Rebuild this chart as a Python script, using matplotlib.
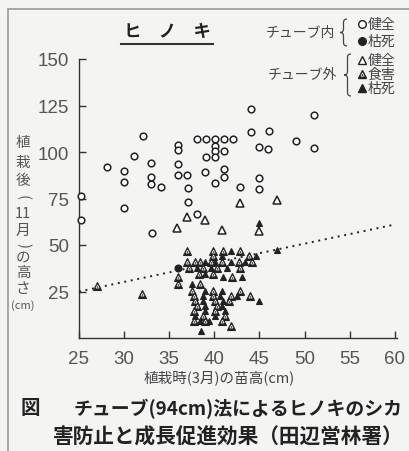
import numpy as np
import matplotlib
matplotlib.use('Agg')
import matplotlib.pyplot as plt
from matplotlib.path import Path
from matplotlib.patches import PathPatch, Rectangle
from matplotlib.lines import Line2D

plt.rcParams['font.family'] = ['Noto Sans CJK JP', 'DejaVu Sans']

# チューブ内・健全
in_ok_x = [25.2, 25.2, 28.1, 30.0, 30.0, 30.0, 31.1, 32.1, 33.0, 33.0, 33.0, 34.1, 33.1,
           36.0, 36.0, 36.0, 36.0, 37.0, 37.1, 37.1, 38.1, 38.1, 39.1, 40.1, 41.1, 42.1,
           40.1, 40.1, 40.1, 39.1, 41.1, 39.0, 41.1, 41.1, 40.1, 42.9, 44.1, 44.1, 46.1,
           45.0, 46.0, 45.0, 45.0, 49.0, 51.0, 51.0]
in_ok_y = [76.5, 63.6, 91.8, 90.0, 84.1, 69.9, 98.0, 108.4, 94.0, 86.4, 82.8, 81.3, 56.3,
           103.9, 101.1, 93.5, 87.8, 87.8, 80.5, 73.0, 66.4, 107.0, 107.0, 107.0, 107.0, 107.0,
           103.4, 100.7, 97.1, 97.1, 100.7, 89.4, 90.9, 86.4, 83.3, 81.0, 123.1, 110.6, 111.5,
           102.5, 101.6, 85.8, 80.1, 106.1, 119.9, 102.0]

# チューブ内・枯死
in_dead_x = [36.0]
in_dead_y = [37.5]

# チューブ外・健全
out_ok_x = [35.9, 37.0, 39.0, 40.9, 42.9, 44.9, 47.0]
out_ok_y = [59.1, 64.8, 63.6, 58.2, 72.6, 57.3, 74.4]

# チューブ外・食害
out_eat_x = [37.0, 39.9, 41.0, 42.9, 39.9, 43.8,
             37.0, 37.9, 38.4, 39.6, 40.9, 42.7, 44.2,
             37.2, 38.8, 40.3, 42.9, 38.3, 39.9,
             36.0, 42.0, 36.0, 38.4, 37.5, 39.9, 42.9,
             37.7, 39.9, 41.8, 44.0, 37.9, 40.1, 41.6,
             38.1, 40.3, 37.7, 40.1, 38.8, 41.2, 37.7, 39.0, 40.9, 41.8,
             32.0, 27.0]
out_eat_y = [47.0, 47.0, 47.0, 47.0, 44.3, 44.3,
             40.7, 40.7, 40.7, 40.7, 40.7, 40.7, 40.7,
             37.6, 37.6, 37.6, 37.6, 34.4, 34.4,
             32.6, 32.6, 29.0, 29.0, 25.4, 25.4, 25.4,
             22.8, 22.8, 22.8, 22.8, 20.1, 20.1, 20.1,
             17.4, 17.4, 14.7, 14.7, 12.0, 12.0, 9.3, 9.3, 9.3, 6.6,
             23.7, 27.8]

# チューブ外・枯死
out_dead_x = [41.9, 40.9, 44.6, 39.0, 40.1, 41.8, 43.4, 38.1, 39.6, 41.4, 39.0,
              41.0, 43.1, 37.5, 39.0, 40.9, 38.8, 40.6, 42.5, 38.8, 41.0, 44.9,
              39.0, 40.9, 39.0, 41.2, 37.9, 40.1, 38.4, 39.4, 38.5, 44.9, 47.0]
out_dead_y = [47.0, 44.3, 44.3, 40.7, 40.7, 40.7, 40.7, 37.6, 37.6, 37.6, 34.4,
              32.6, 32.6, 29.0, 25.4, 25.4, 22.8, 22.8, 22.8, 20.1, 20.1, 20.1,
              17.4, 17.4, 14.7, 14.7, 12.0, 12.0, 9.3, 9.3, 3.9, 62.0, 47.3]

# 回帰直線（点線）
reg_x = [25, 60]
reg_y = [25, 61]

xticks = [25, 30, 35, 40, 45, 50, 55, 60]
yticks = [25, 50, 75, 100, 125, 150]

W, H = 409, 452
bg = '#f4f5f3'
ink = '#222222'


def fx(px):
    return px / W


def fy(py):
    return 1 - py / H


fig = plt.figure(figsize=(W / 100, H / 100), dpi=100)
fig.patch.set_facecolor(bg)

ax = fig.add_axes([fx(79), fy(339), fx(397) - fx(79), fy(60) - fy(339)])
ax.set_facecolor('none')
ax.set_xlim(25, 60.25)
ax.set_ylim(0, 150)
for s in ['top', 'right']:
    ax.spines[s].set_visible(False)
for s in ['left', 'bottom']:
    ax.spines[s].set_color('#333333')
    ax.spines[s].set_linewidth(1.0)
ax.set_xticks(xticks)
ax.set_yticks(yticks)
ax.tick_params(direction='in', length=5, width=1, color='#333333',
               labelcolor='#555555', labelsize=13.5)
ax.tick_params(axis='x', pad=9)
ax.tick_params(axis='y', pad=7)
for lbl in ax.get_xticklabels() + ax.get_yticklabels():
    lbl.set_fontfamily(['Liberation Sans Narrow', 'Liberation Sans'])

ax.plot(reg_x, reg_y, color=ink, lw=1.4, ls=(0, (1, 2.4)), zorder=3)

ax.plot(in_ok_x, in_ok_y, 'o', ms=4.8, mfc='white', mec=ink, mew=1.1,
        ls='none', clip_on=False, zorder=4)
ax.plot(in_dead_x, in_dead_y, 'o', ms=4.8, mfc=ink, mec=ink, mew=1.0,
        ls='none', zorder=4)
ax.plot(out_ok_x, out_ok_y, '^', ms=5.2, mfc='white', mec=ink, mew=1.1,
        ls='none', zorder=4)
ax.plot(out_eat_x, out_eat_y, '^', ms=5.4, mfc=ink, mec=ink, mew=0.8,
        ls='none', zorder=4)
ax.plot(out_eat_x, out_eat_y, '^', ms=2.2, mfc='none', mec='white', mew=0.5,
        ls='none', zorder=5)
ax.plot(out_dead_x, out_dead_y, '^', ms=5.0, mfc=ink, mec=ink, mew=0.8,
        ls='none', zorder=4)

# 枠
fig.add_artist(Rectangle((fx(8), -0.05), 1.2, fy(10) + 0.05, fill=False,
                         ec='#9a9a9a', lw=1.2, transform=fig.transFigure))

# タイトル
fig.text(fx(167), fy(32), 'ヒ　ノ　キ', fontsize=12.5, fontweight='bold',
         ha='center', va='center', color=ink)
fig.add_artist(Line2D([fx(121), fx(213)], [fy(45), fy(45)], lw=1.5,
                      color='#333333', transform=fig.transFigure))


def brace(xr, yt, yb, w=7):
    xl, xm, ym, d = xr - w, xr - w / 2, (yt + yb) / 2, w / 2
    pts = [(xr, yt), (xm, yt), (xm, yt + d), (xm, ym - d), (xm, ym), (xl, ym),
           (xm, ym), (xm, ym + d), (xm, yb - d), (xm, yb), (xr, yb)]
    codes = [Path.MOVETO, Path.CURVE3, Path.CURVE3, Path.LINETO, Path.CURVE3,
             Path.CURVE3, Path.CURVE3, Path.CURVE3, Path.LINETO, Path.CURVE3,
             Path.CURVE3]
    verts = [(fx(x), fy(y)) for x, y in pts]
    fig.add_artist(PathPatch(Path(verts, codes), fill=False, ec='#444444',
                             lw=0.9, transform=fig.transFigure))


def key(py, marker, face, label, hatch=False):
    fig.add_artist(Line2D([fx(362)], [fy(py)], marker=marker, ms=5.5, mfc=face,
                          mec=ink, mew=1.0, transform=fig.transFigure))
    if hatch:
        fig.add_artist(Line2D([fx(362)], [fy(py) - 0.001], marker=marker, ms=2.4,
                              mfc='none', mec='white', mew=0.5,
                              transform=fig.transFigure))
    fig.text(fx(368), fy(py), label, fontsize=10, color='#444444',
             ha='left', va='center')


fig.text(fx(300), fy(33), 'チューブ内', fontsize=10, color='#444444',
         ha='center', va='center')
brace(347, 20, 47)
key(25, 'o', 'white', '健全')
key(42, 'o', ink, '枯死')

fig.text(fx(302), fy(75), 'チューブ外', fontsize=10, color='#444444',
         ha='center', va='center')
brace(351, 55, 97)
key(61, '^', 'white', '健全')
key(75, '^', ink, '食害', hatch=True)
key(89, '^', ink, '枯死')

# 縦書きの軸ラベル（括弧は横向きの文字を回して使う）
ylab = [('植', 143, 0), ('栽', 163, 0), ('後', 181, 0), ('(', 198, -90),
        ('11', 214, 0), ('月', 231, 0), (')', 246, -90), ('の', 258, 0),
        ('高', 273, 0), ('さ', 289, 0)]
for ch, py, rot in ylab:
    fig.text(fx(23), fy(py), ch, fontsize=10.5, color='#555555',
             ha='center', va='center', rotation=rot,
             rotation_mode='anchor')
fig.text(fx(23), fy(306), '(cm)', fontsize=8, color='#555555',
         ha='center', va='center')

fig.text(fx(219), fy(378), '植栽時(3月)の苗高(cm)', fontsize=10.5,
         color='#444444', ha='center', va='center')

# 図のキャプション
fig.text(fx(21), fy(409), '図', fontsize=14, fontweight='bold', color=ink,
         ha='left', va='center')
fig.text(fx(74), fy(409), 'チューブ(94cm)法によるヒノキのシカ', fontsize=13.6,
         fontweight='bold', color=ink, ha='left', va='center')
fig.text(fx(53), fy(437), '害防止と成長促進効果（田辺営林署）', fontsize=14.9,
         fontweight='bold', color=ink, ha='left', va='center')

fig.savefig('out.png', dpi=100, facecolor=bg)
